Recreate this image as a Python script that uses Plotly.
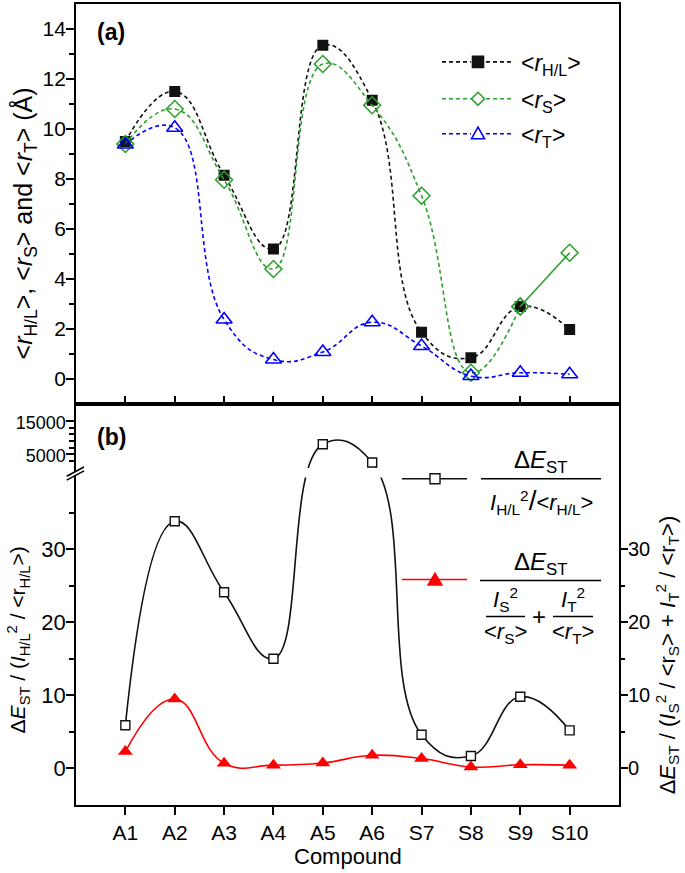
import plotly.graph_objects as go

# ---------------- data ----------------
compounds = ["A1", "A2", "A3", "A4", "A5", "A6", "S7", "S8", "S9", "S10"]
r_hl = [9.5, 11.5, 8.15, 5.2, 13.35, 11.15, 1.87, 0.85, 2.9, 1.98]
r_s = [9.4, 10.8, 7.97, 4.4, 12.6, 10.95, 7.33, 0.25, 2.9, 5.05]
r_t = [9.38, 10.05, 2.38, 0.78, 1.08, 2.27, 1.32, 0.12, 0.25, 0.19]
ratio_hl = [5.9, 33.8, 24.1, 15.0, 8000, 2500, 4.6, 1.7, 9.8, 5.2]
ratio_st = [2.3, 9.5, 0.7, 0.45, 0.75, 1.8, 1.35, 0.2, 0.5, 0.45]

lower_ticks = [0, 10, 20, 30]
lower_minor = [5, 15, 25, 35]
upper_ticks = [5000, 15000]
upper_minor = [3000, 7000, 9000, 11000, 13000]
right_ticks = [0, 10, 20, 30]
right_minor = [5, 15, 25]

# ---------------- broken y-axis scale for panel (b) ----------------
BREAK_LOW = 40.0      # top of lower segment
UPPER_BASE = 40.7     # axis position of upper-segment zero
UPPER_UNIT = 2200.0   # upper-segment values per lower-segment unit


def broken(v):
    return v if v <= BREAK_LOW else UPPER_BASE + v / UPPER_UNIT


# ---------------- geometry helpers ----------------
FW, FH = 685, 873
ML, MR, MT, MB = 76, 66, 2, 68
PW, PH = FW - ML - MR, FH - MT - MB
SPLIT = (805 - 403) / PH


def px(x):
    return (x - ML) / PW


def py(y):
    return (FH - MB - y) / PH


FONT = "Liberation Sans, Arial, sans-serif"
GREEN = "#2ca02c"
BLUE = "#0000ff"
RED = "#ff0000"
DASH = "4px,3px"
SM = 1.3

fig = go.Figure()

# ---------------- panel (a) ----------------
fig.add_trace(go.Scatter(
    x=compounds, y=r_hl, mode="lines+markers", xaxis="x", yaxis="y",
    line=dict(color="#111", width=1.6, dash=DASH, shape="spline", smoothing=SM),
    marker=dict(symbol="square", size=11, color="#111"), showlegend=False))
fig.add_trace(go.Scatter(
    x=compounds[:9], y=r_s[:9], mode="lines+markers", xaxis="x", yaxis="y",
    line=dict(color=GREEN, width=1.6, dash=DASH, shape="spline", smoothing=SM),
    marker=dict(symbol="diamond-open", size=13, color=GREEN, line=dict(width=1.6)),
    showlegend=False))
fig.add_trace(go.Scatter(
    x=compounds[8:], y=r_s[8:], mode="lines+markers", xaxis="x", yaxis="y",
    line=dict(color=GREEN, width=1.6, shape="spline"),
    marker=dict(symbol="diamond-open", size=13, color=GREEN, line=dict(width=1.6)),
    showlegend=False))
fig.add_trace(go.Scatter(
    x=compounds, y=r_t, mode="lines+markers", xaxis="x", yaxis="y",
    line=dict(color=BLUE, width=1.6, dash=DASH, shape="spline", smoothing=SM),
    marker=dict(symbol="triangle-up-open", size=14, color=BLUE, line=dict(width=1.6)),
    showlegend=False))

# ---------------- panel (b) ----------------
fig.add_trace(go.Scatter(
    x=compounds, y=[broken(v) for v in ratio_hl], mode="lines+markers",
    xaxis="x2", yaxis="y2",
    line=dict(color="#111", width=1.6, shape="spline", smoothing=SM),
    marker=dict(symbol="square", size=9, color="white", line=dict(color="#111", width=1.4)),
    showlegend=False))
fig.add_trace(go.Scatter(
    x=compounds, y=ratio_st, mode="lines+markers", xaxis="x2", yaxis="y3",
    line=dict(color=RED, width=1.6, shape="spline", smoothing=SM),
    marker=dict(symbol="triangle-up", size=13, color=RED),
    showlegend=False))

axis_common = dict(showline=True, linecolor="black", linewidth=1.8, showgrid=False,
                   zeroline=False, tickcolor="black", tickwidth=1.5)
YRANGE_B = [-5, 49.84]

fig.update_layout(
    width=FW, height=FH,
    margin=dict(l=ML, r=MR, t=MT, b=MB),
    paper_bgcolor="white", plot_bgcolor="white",
    font=dict(family=FONT, color="black", size=20),
    xaxis=dict(**axis_common, domain=[0, 1], anchor="y", type="category",
               range=[-1, 10], mirror=True, ticks="inside", ticklen=8,
               showticklabels=False),
    yaxis=dict(**axis_common, domain=[SPLIT, 1], anchor="x", range=[-1, 15],
               mirror=True, ticks="outside", ticklen=8, ticklabelstandoff=-4,
               tickvals=list(range(0, 15, 2)), tickfont=dict(size=21),
               minor=dict(tickvals=list(range(1, 15, 2)), ticks="outside",
                          ticklen=5, tickcolor="black", tickwidth=1.5)),
    xaxis2=dict(**axis_common, domain=[0, 1], anchor="y2", type="category",
                range=[-1, 10], mirror=True, ticks="outside", ticklen=8,
                tickfont=dict(size=21)),
    yaxis2=dict(**axis_common, domain=[0, SPLIT], anchor="x2", range=YRANGE_B,
                mirror=True, ticks="outside", ticklen=8, ticklabelstandoff=-4,
                tickvals=lower_ticks + [broken(v) for v in upper_ticks],
                ticktext=[str(v) for v in lower_ticks]
                + ['<span style="font-size:18px">%d</span>' % v for v in upper_ticks],
                tickfont=dict(size=22),
                minor=dict(tickvals=lower_minor + [broken(v) for v in upper_minor],
                           ticks="outside", ticklen=5, tickcolor="black", tickwidth=1.5)),
    yaxis3=dict(showline=False, showgrid=False, zeroline=False, overlaying="y2",
                side="right", anchor="x2", range=YRANGE_B, ticks="outside",
                ticklen=8, tickcolor="black", tickwidth=1.5, ticklabelstandoff=-4,
                tickvals=right_ticks, tickfont=dict(size=20),
                minor=dict(tickvals=right_minor, ticks="outside", ticklen=5,
                           tickcolor="black", tickwidth=1.5)),
)

shapes = []
annotations = []

# gap in the curve at the axis break
shapes.append(dict(type="rect", xref="x2", yref="y2", x0=3.5, x1=5.5, y0=39.8, y1=41.1,
                   fillcolor="white", line=dict(width=0), layer="above"))
# axis break marks on the left axis
shapes.append(dict(type="path", xref="paper", yref="paper", layer="above",
                   path="M%f,%f L%f,%f L%f,%f L%f,%f Z" % (
                       px(68), py(478.3), px(83.3), py(470),
                       px(83.3), py(466.2), px(68), py(474.5)),
                   fillcolor="white", line=dict(width=0)))
for y0, y1 in [(479.3, 470.0), (475.5, 466.2)]:
    shapes.append(dict(type="line", xref="paper", yref="paper", layer="above",
                       x0=px(66.7), y0=py(y0), x1=px(84), y1=py(y1),
                       line=dict(color="black", width=1.6)))

# ---------------- legend (a) ----------------
leg_a = [
    (60, "#111", "M-5.5,-5.5 L5.5,-5.5 L5.5,5.5 L-5.5,5.5 Z", "#111",
     "&lt;<i>r</i><sub>H/L</sub>&gt;"),
    (97, GREEN, "M0,-6.5 L6.5,0 L0,6.5 L-6.5,0 Z", "rgba(0,0,0,0)",
     "&lt;<i>r</i><sub>S</sub>&gt;"),
    (132, BLUE, "M-6.5,-5 L6.5,-5 L0,6.5 Z", "rgba(0,0,0,0)",
     "&lt;<i>r</i><sub>T</sub>&gt;"),
]
for yy, col, path, fill, label_text in leg_a:
    for xa, xb in [(442, 471), (486, 514)]:
        shapes.append(dict(type="line", xref="paper", yref="paper",
                           x0=px(xa), x1=px(xb), y0=py(yy), y1=py(yy),
                           line=dict(color=col, width=1.6, dash=DASH)))
    shapes.append(dict(type="path", xref="paper", yref="paper",
                       xsizemode="pixel", ysizemode="pixel",
                       xanchor=px(478), yanchor=py(yy), path=path,
                       fillcolor=fill, line=dict(color=col, width=1.6)))
    annotations.append(dict(xref="paper", yref="paper", x=px(519), y=py(yy + 3),
                            xanchor="left", yanchor="middle", showarrow=False,
                            text=label_text, font=dict(size=23)))

# ---------------- legend (b) ----------------
for yy, col, path, fill in [
        (478, "#111", "M-5,-5 L5,-5 L5,5 L-5,5 Z", "white"),
        (579, RED, "M-7,-5.5 L7,-5.5 L0,6.5 Z", RED)]:
    shapes.append(dict(type="line", xref="paper", yref="paper",
                       x0=px(402), x1=px(467), y0=py(yy), y1=py(yy),
                       line=dict(color=col, width=1.6)))
    shapes.append(dict(type="path", xref="paper", yref="paper",
                       xsizemode="pixel", ysizemode="pixel",
                       xanchor=px(435), yanchor=py(yy), path=path,
                       fillcolor=fill, line=dict(color=col, width=1.4)))


def hline(x0, x1, y):
    shapes.append(dict(type="line", xref="paper", yref="paper",
                       x0=px(x0), x1=px(x1), y0=py(y), y1=py(y),
                       line=dict(color="black", width=1.5)))


def label(x, y, text, size=21, xanchor="center"):
    annotations.append(dict(xref="paper", yref="paper", x=px(x), y=py(y),
                            xanchor=xanchor, yanchor="middle", showarrow=False,
                            text=text, font=dict(size=size)))


dE = "Δ<i>E</i><sub>ST</sub>"
label(541, 461, dE, size=24)
hline(481, 601, 478)
label(541, 501, "<i>I</i><sub>H/L</sub><sup>2</sup><span style='font-size:28px'>/</span>&lt;<i>r</i><sub>H/L</sub>&gt;", size=22)
label(541, 563, dE, size=24)
hline(480, 601, 580)
label(505, 599, "<i>I</i><sub>S</sub><sup>2</sup>", size=22)
hline(486, 525, 616)
label(505, 633, "&lt;<i>r</i><sub>S</sub>&gt;", size=22)
label(539, 616, "+", size=24)
label(573, 599, "<i>I</i><sub>T</sub><sup>2</sup>", size=22)
hline(553, 593, 616)
label(573, 633, "&lt;<i>r</i><sub>T</sub>&gt;", size=22)

# panel labels
label(111, 30, "<b>(a)</b>", size=23)
label(111, 436, "<b>(b)</b>", size=23)

# axis titles
annotations.append(dict(xref="paper", yref="paper", x=px(24), y=py(222),
                        textangle=-90, showarrow=False, xanchor="center",
                        yanchor="middle", font=dict(size=25),
                        text="&lt;<i>r</i><sub>H/L</sub>&gt;, &lt;<i>r</i><sub>S</sub>&gt; "
                             "and &lt;<i>r</i><sub>T</sub>&gt; (Å)"))
annotations.append(dict(xref="paper", yref="paper", x=px(18), y=py(640),
                        textangle=-90, showarrow=False, xanchor="center",
                        yanchor="middle", font=dict(size=21),
                        text="Δ<i>E</i><sub>ST</sub> / (<i>I</i><sub>H/L</sub><sup>2</sup> "
                             "/ &lt;r<sub>H/L</sub>&gt;)"))
annotations.append(dict(xref="paper", yref="paper", x=px(667), y=py(655),
                        textangle=-90, showarrow=False, xanchor="center",
                        yanchor="middle", font=dict(size=22),
                        text="Δ<i>E</i><sub>ST</sub> / (<i>I</i><sub>S</sub><sup>2</sup> "
                             "/ &lt;r<sub>S</sub>&gt; + <i>I</i><sub>T</sub><sup>2</sup> "
                             "/ &lt;r<sub>T</sub>&gt;)"))
annotations.append(dict(xref="paper", yref="paper", x=px(347.5), y=py(857),
                        showarrow=False, xanchor="center", yanchor="middle",
                        font=dict(size=22), text="Compound"))

fig.update_layout(shapes=shapes, annotations=annotations)
# remove the browser's default page margin so the figure sits at the window origin
fig.write_html("out.html", config={"displayModeBar": False},
               post_script="document.body.style.margin='0';")
